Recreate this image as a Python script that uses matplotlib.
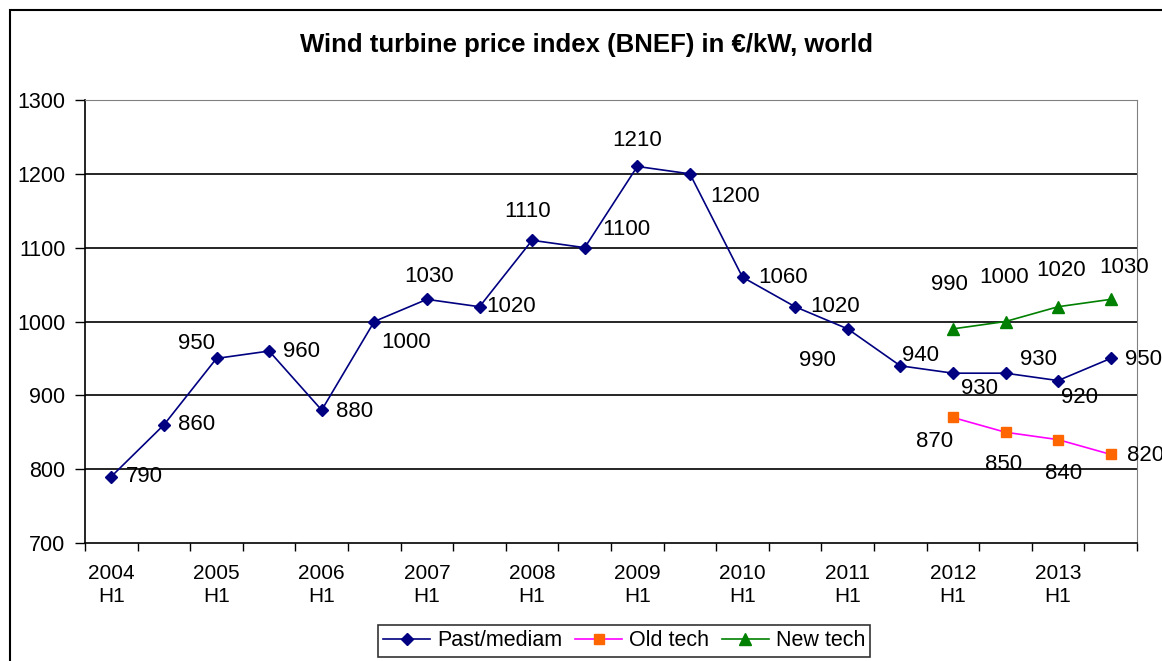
import matplotlib
matplotlib.use("Agg")
import matplotlib.pyplot as plt
from matplotlib.patches import Rectangle

plt.rcParams['font.family'] = ['Liberation Sans', 'DejaVu Sans']

categories = [f"{y}\n{h}" for y in range(2004, 2014) for h in ("H1", "H2")]
past = [790, 860, 950, 960, 880, 1000, 1030, 1020, 1110, 1100,
        1210, 1200, 1060, 1020, 990, 940, 930, 930, 920, 950]
old_start = 16
old_tech = [870, 850, 840, 820]
new_tech = [990, 1000, 1020, 1030]
y_ticks = [700, 800, 900, 1000, 1100, 1200, 1300]

# label offsets in pixels (dx, dy) relative to the point (screen y up)
past_off = [(33, 0), (33, 0), (-20, 15), (32, 0), (33, -1), (32, -21), (2, 23), (32, 0),
            (-5, 29), (42, 18), (0, 26), (45, -23), (41, 0), (40, 0), (-30, -32),
            (20, 10), (27, -15), (33, 14), (21, -17), (33, -1)]
old_off = [(-18, -24), (-2, -32), (5, -34), (35, -1)]
new_off = [(-3, 44), (-1, 44), (3, 36), (13, 32)]

W, H = 1162, 661
fig = plt.figure(figsize=(W / 100, H / 100), dpi=100)
ax = fig.add_axes([85 / W, 1 - 543 / H, (1137 - 85) / W, (543 - 100) / H])

x = list(range(len(past)))
xo = list(range(old_start, old_start + len(old_tech)))

l1, = ax.plot(x, past, color='#000080', marker='D', markersize=6, lw=1.2, zorder=3)
l2, = ax.plot(xo, old_tech, color='#FF00FF', marker='s', markersize=7,
              markerfacecolor='#FF6600', markeredgecolor='#FF6600', lw=1.2, zorder=3)
l3, = ax.plot(xo, new_tech, color='#008000', marker='^', markersize=8, lw=1.2, zorder=3)

fs = 16
def label(xs, ys, offs):
    for xi, yi, (dx, dy) in zip(xs, ys, offs):
        ax.annotate(str(yi), (xi, yi), xytext=(dx * 0.72, dy * 0.72), textcoords='offset points',
                    ha='center', va='center', fontsize=fs, color='black', zorder=4)

label(x, past, past_off)
label(xo, old_tech, old_off)
label(xo, new_tech, new_off)

ax.set_xlim(-0.5, len(past) - 0.5)
ax.set_ylim(700, 1300)
ax.set_yticks(y_ticks)
ax.set_xticks(x[::2])
ax.set_xticklabels(categories[::2], fontsize=15, linespacing=1.3)
ax.set_xticks([i - 0.5 for i in range(len(past) + 1)], minor=True)
ax.tick_params(axis='x', which='major', length=0, pad=15)
ax.tick_params(axis='x', which='minor', length=6, direction='out', width=1)
ax.tick_params(axis='y', length=7, direction='out', width=1, labelsize=15.5, pad=7)
for yv in y_ticks[1:-1]:
    ax.axhline(yv, color='black', lw=1.2, zorder=1)
ax.spines['top'].set_color('#808080')
ax.spines['right'].set_color('#808080')
ax.spines['left'].set_linewidth(1.2)
ax.spines['bottom'].set_linewidth(1.2)

fig.text(587 / W, 1 - 45 / H, "Wind turbine price index (BNEF) in €/kW, world",
         ha='center', va='center', fontsize=18.5, fontweight='bold')

leg = fig.legend([l1, l2, l3], ["Past/mediam", "Old tech", "New tech"], loc='center',
                 bbox_to_anchor=(624 / W, 1 - 641 / H), ncol=3, fontsize=15.5, frameon=True,
                 fancybox=False, edgecolor='black', handlelength=2.2, columnspacing=0.6,
                 handletextpad=0.3, borderpad=0.25)
leg.get_frame().set_linewidth(1.2)

fig.patches.append(Rectangle((10 / W, -0.1), 1.2, 1 - 10 / H + 0.1, transform=fig.transFigure,
                             fill=False, edgecolor='black', lw=1.5))

fig.savefig("out.png", dpi=100)
